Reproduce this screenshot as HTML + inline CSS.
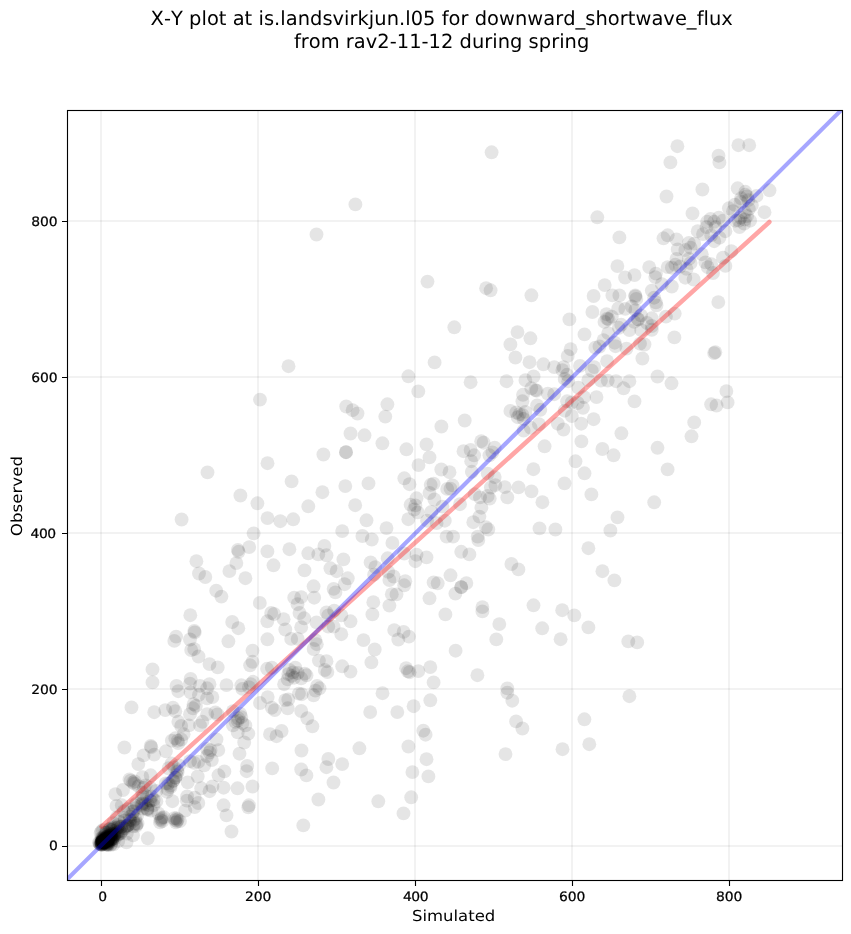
<!DOCTYPE html>
<html lang="en"><head><meta charset="utf-8"><title>X-Y plot at is.landsvirkjun.l05 for downward_shortwave_flux</title>
<style>html,body{margin:0;padding:0;background:#fff}body{width:851px;height:934px;overflow:hidden}svg{display:block}text{font-family:"DejaVu Sans","Liberation Sans",sans-serif;fill:#000;font-kerning:none;font-variant-ligatures:none;text-rendering:geometricPrecision}</style></head><body>
<svg width="851" height="934" viewBox="0 0 851 934">
<rect x="0" y="0" width="851" height="934" fill="#fff"/>
<defs><clipPath id="c"><rect x="67.5" y="110.5" width="775" height="770"/></clipPath></defs>
<g stroke="#000" stroke-opacity="0.05" stroke-width="2" fill="none"><path d="M101 880.5V110.5M258 880.5V110.5M415 880.5V110.5M572 880.5V110.5M729 880.5V110.5"/><path d="M67.5 846H842.5M67.5 689H842.5M67.5 533H842.5M67.5 377H842.5M67.5 221H842.5"/></g>
<g clip-path="url(#c)" fill="#000" fill-opacity="0.1">
<circle cx="718.5" cy="155.7" r="6.94"/>
<circle cx="719.4" cy="162.4" r="6.94"/>
<circle cx="702.4" cy="189.5" r="6.94"/>
<circle cx="769.5" cy="190.3" r="6.94"/>
<circle cx="737.7" cy="188.3" r="6.94"/>
<circle cx="745.3" cy="191.8" r="6.94"/>
<circle cx="747.1" cy="196.5" r="6.94"/>
<circle cx="756.5" cy="195.9" r="6.94"/>
<circle cx="764.5" cy="212.2" r="6.94"/>
<circle cx="728.9" cy="208.3" r="6.94"/>
<circle cx="734.7" cy="204.8" r="6.94"/>
<circle cx="740.6" cy="201.8" r="6.94"/>
<circle cx="748.9" cy="208.9" r="6.94"/>
<circle cx="744.8" cy="212.4" r="6.94"/>
<circle cx="740.6" cy="217.7" r="6.94"/>
<circle cx="750.1" cy="220.7" r="6.94"/>
<circle cx="710.6" cy="218.9" r="6.94"/>
<circle cx="714.1" cy="221.8" r="6.94"/>
<circle cx="718.8" cy="217.7" r="6.94"/>
<circle cx="723" cy="220.7" r="6.94"/>
<circle cx="707.1" cy="221.8" r="6.94"/>
<circle cx="745.3" cy="194.8" r="6.94"/>
<circle cx="748.3" cy="200.1" r="6.94"/>
<circle cx="741.2" cy="198.3" r="6.94"/>
<circle cx="738.9" cy="220.7" r="6.94"/>
<circle cx="735.3" cy="220.7" r="6.94"/>
<circle cx="747.1" cy="216" r="6.94"/>
<circle cx="751.8" cy="205.4" r="6.94"/>
<circle cx="733" cy="211.2" r="6.94"/>
<circle cx="744.8" cy="219.5" r="6.94"/>
<circle cx="714.1" cy="353.1" r="6.94"/>
<circle cx="715.3" cy="352.2" r="6.94"/>
<circle cx="670.4" cy="162.4" r="6.94"/>
<circle cx="666.5" cy="196.5" r="6.94"/>
<circle cx="692.5" cy="213.4" r="6.94"/>
<circle cx="619.4" cy="237.4" r="6.94"/>
<circle cx="617.4" cy="266.1" r="6.94"/>
<circle cx="625.1" cy="277.5" r="6.94"/>
<circle cx="634.5" cy="275.1" r="6.94"/>
<circle cx="649.2" cy="267.1" r="6.94"/>
<circle cx="604.7" cy="285.1" r="6.94"/>
<circle cx="612.4" cy="295.4" r="6.94"/>
<circle cx="619.4" cy="295.4" r="6.94"/>
<circle cx="651.8" cy="290.6" r="6.94"/>
<circle cx="635.3" cy="295.4" r="6.94"/>
<circle cx="636.3" cy="298.9" r="6.94"/>
<circle cx="618.3" cy="308.3" r="6.94"/>
<circle cx="625.3" cy="308.9" r="6.94"/>
<circle cx="631.8" cy="306.5" r="6.94"/>
<circle cx="635.3" cy="310.1" r="6.94"/>
<circle cx="606.5" cy="314.2" r="6.94"/>
<circle cx="608.5" cy="319.2" r="6.94"/>
<circle cx="604.5" cy="321.9" r="6.94"/>
<circle cx="611.8" cy="316.6" r="6.94"/>
<circle cx="637.7" cy="319.2" r="6.94"/>
<circle cx="641" cy="315.4" r="6.94"/>
<circle cx="634.2" cy="321.9" r="6.94"/>
<circle cx="651.8" cy="318.3" r="6.94"/>
<circle cx="647.1" cy="323" r="6.94"/>
<circle cx="621.2" cy="324.8" r="6.94"/>
<circle cx="618.8" cy="327.8" r="6.94"/>
<circle cx="629.4" cy="330.1" r="6.94"/>
<circle cx="651.8" cy="329.8" r="6.94"/>
<circle cx="608.2" cy="333.1" r="6.94"/>
<circle cx="641.2" cy="330.1" r="6.94"/>
<circle cx="674.4" cy="337.4" r="6.94"/>
<circle cx="635.3" cy="296.5" r="6.94"/>
<circle cx="638.3" cy="319.5" r="6.94"/>
<circle cx="607.1" cy="318.7" r="6.94"/>
<circle cx="603.5" cy="340.1" r="6.94"/>
<circle cx="614.7" cy="342.7" r="6.94"/>
<circle cx="615.5" cy="346.2" r="6.94"/>
<circle cx="640" cy="343.7" r="6.94"/>
<circle cx="644.5" cy="344.5" r="6.94"/>
<circle cx="626.5" cy="348.6" r="6.94"/>
<circle cx="607.1" cy="361.2" r="6.94"/>
<circle cx="642.4" cy="358.5" r="6.94"/>
<circle cx="657.5" cy="376.5" r="6.94"/>
<circle cx="671.5" cy="383.3" r="6.94"/>
<circle cx="600.9" cy="380.6" r="6.94"/>
<circle cx="607.7" cy="380.6" r="6.94"/>
<circle cx="616" cy="381.2" r="6.94"/>
<circle cx="629.4" cy="381.2" r="6.94"/>
<circle cx="623.6" cy="388.3" r="6.94"/>
<circle cx="634.5" cy="401.4" r="6.94"/>
<circle cx="621.4" cy="433.3" r="6.94"/>
<circle cx="694.2" cy="422.4" r="6.94"/>
<circle cx="691.5" cy="436.3" r="6.94"/>
<circle cx="657.5" cy="447.8" r="6.94"/>
<circle cx="602.4" cy="449" r="6.94"/>
<circle cx="517.5" cy="332.1" r="6.94"/>
<circle cx="530.4" cy="338.3" r="6.94"/>
<circle cx="510.4" cy="344.4" r="6.94"/>
<circle cx="515.4" cy="357.5" r="6.94"/>
<circle cx="529.5" cy="362.2" r="6.94"/>
<circle cx="543.4" cy="364.3" r="6.94"/>
<circle cx="554.2" cy="367.1" r="6.94"/>
<circle cx="533.6" cy="376.5" r="6.94"/>
<circle cx="525.4" cy="380.1" r="6.94"/>
<circle cx="470.6" cy="382.2" r="6.94"/>
<circle cx="506.5" cy="381.2" r="6.94"/>
<circle cx="531.3" cy="388.3" r="6.94"/>
<circle cx="535.4" cy="390.1" r="6.94"/>
<circle cx="536.6" cy="390.7" r="6.94"/>
<circle cx="523" cy="394.8" r="6.94"/>
<circle cx="522.4" cy="401.3" r="6.94"/>
<circle cx="547.8" cy="393.6" r="6.94"/>
<circle cx="554.2" cy="394.2" r="6.94"/>
<circle cx="537.1" cy="405.4" r="6.94"/>
<circle cx="540.3" cy="409.8" r="6.94"/>
<circle cx="510.4" cy="410.9" r="6.94"/>
<circle cx="516.3" cy="412.5" r="6.94"/>
<circle cx="519.5" cy="414.2" r="6.94"/>
<circle cx="522.4" cy="414.8" r="6.94"/>
<circle cx="517.7" cy="417.2" r="6.94"/>
<circle cx="525.4" cy="411.9" r="6.94"/>
<circle cx="523.6" cy="418.9" r="6.94"/>
<circle cx="464.7" cy="420.5" r="6.94"/>
<circle cx="538.9" cy="424.2" r="6.94"/>
<circle cx="530.7" cy="427.8" r="6.94"/>
<circle cx="557.8" cy="423.7" r="6.94"/>
<circle cx="569.4" cy="319.4" r="6.94"/>
<circle cx="584.5" cy="334.4" r="6.94"/>
<circle cx="570.6" cy="349.2" r="6.94"/>
<circle cx="567.7" cy="355.9" r="6.94"/>
<circle cx="595.3" cy="347.7" r="6.94"/>
<circle cx="599.5" cy="346.5" r="6.94"/>
<circle cx="580" cy="365.9" r="6.94"/>
<circle cx="594.2" cy="367.1" r="6.94"/>
<circle cx="591.8" cy="370.6" r="6.94"/>
<circle cx="588.3" cy="380.1" r="6.94"/>
<circle cx="578.3" cy="387.7" r="6.94"/>
<circle cx="562.4" cy="370.1" r="6.94"/>
<circle cx="567.1" cy="374.8" r="6.94"/>
<circle cx="563.5" cy="367.1" r="6.94"/>
<circle cx="564.7" cy="378.9" r="6.94"/>
<circle cx="568.2" cy="381.2" r="6.94"/>
<circle cx="596.5" cy="397.1" r="6.94"/>
<circle cx="584.1" cy="397.1" r="6.94"/>
<circle cx="567.1" cy="401.3" r="6.94"/>
<circle cx="571.8" cy="402.4" r="6.94"/>
<circle cx="577.7" cy="403" r="6.94"/>
<circle cx="583" cy="407.8" r="6.94"/>
<circle cx="593.6" cy="419.2" r="6.94"/>
<circle cx="571.8" cy="416" r="6.94"/>
<circle cx="581.2" cy="423.7" r="6.94"/>
<circle cx="564.7" cy="410.7" r="6.94"/>
<circle cx="563.5" cy="429.5" r="6.94"/>
<circle cx="481.2" cy="441.2" r="6.94"/>
<circle cx="483.6" cy="442.7" r="6.94"/>
<circle cx="494.7" cy="447.7" r="6.94"/>
<circle cx="492.4" cy="452.4" r="6.94"/>
<circle cx="489.4" cy="455.3" r="6.94"/>
<circle cx="463.5" cy="451.2" r="6.94"/>
<circle cx="470.6" cy="450" r="6.94"/>
<circle cx="474.1" cy="455.3" r="6.94"/>
<circle cx="471.2" cy="461.2" r="6.94"/>
<circle cx="471.8" cy="471.8" r="6.94"/>
<circle cx="523.6" cy="430.6" r="6.94"/>
<circle cx="544.6" cy="446.3" r="6.94"/>
<circle cx="533.4" cy="469.2" r="6.94"/>
<circle cx="487.7" cy="473.6" r="6.94"/>
<circle cx="494.7" cy="477.1" r="6.94"/>
<circle cx="495.3" cy="485.1" r="6.94"/>
<circle cx="490.9" cy="487.5" r="6.94"/>
<circle cx="504.8" cy="487.1" r="6.94"/>
<circle cx="518.5" cy="487.4" r="6.94"/>
<circle cx="531.5" cy="491.4" r="6.94"/>
<circle cx="507.3" cy="497.4" r="6.94"/>
<circle cx="542.4" cy="502.2" r="6.94"/>
<circle cx="474.7" cy="494.2" r="6.94"/>
<circle cx="480" cy="497.4" r="6.94"/>
<circle cx="487.7" cy="496" r="6.94"/>
<circle cx="489.7" cy="498.6" r="6.94"/>
<circle cx="460" cy="504.2" r="6.94"/>
<circle cx="481.4" cy="507.7" r="6.94"/>
<circle cx="479.4" cy="516.6" r="6.94"/>
<circle cx="473.3" cy="522.2" r="6.94"/>
<circle cx="485.9" cy="527.2" r="6.94"/>
<circle cx="488.3" cy="529.5" r="6.94"/>
<circle cx="477.7" cy="536.6" r="6.94"/>
<circle cx="478.3" cy="540.1" r="6.94"/>
<circle cx="539.5" cy="528.4" r="6.94"/>
<circle cx="555.4" cy="529.5" r="6.94"/>
<circle cx="581.4" cy="441.4" r="6.94"/>
<circle cx="613.6" cy="455.3" r="6.94"/>
<circle cx="575.5" cy="461.3" r="6.94"/>
<circle cx="584.5" cy="473.3" r="6.94"/>
<circle cx="564.5" cy="483.4" r="6.94"/>
<circle cx="591.4" cy="494.4" r="6.94"/>
<circle cx="654.2" cy="502.3" r="6.94"/>
<circle cx="617.5" cy="517.4" r="6.94"/>
<circle cx="610.4" cy="530.5" r="6.94"/>
<circle cx="364.5" cy="435.3" r="6.94"/>
<circle cx="382.4" cy="443.3" r="6.94"/>
<circle cx="406.4" cy="449.3" r="6.94"/>
<circle cx="426.5" cy="444.4" r="6.94"/>
<circle cx="429.5" cy="457.4" r="6.94"/>
<circle cx="418.5" cy="465.1" r="6.94"/>
<circle cx="441.3" cy="469.5" r="6.94"/>
<circle cx="449.5" cy="472.2" r="6.94"/>
<circle cx="368.5" cy="483.4" r="6.94"/>
<circle cx="404.3" cy="478.3" r="6.94"/>
<circle cx="409.5" cy="484.2" r="6.94"/>
<circle cx="430.7" cy="484.8" r="6.94"/>
<circle cx="433.6" cy="483.6" r="6.94"/>
<circle cx="429.5" cy="493" r="6.94"/>
<circle cx="434.4" cy="499.5" r="6.94"/>
<circle cx="447.2" cy="488.9" r="6.94"/>
<circle cx="452.5" cy="485.4" r="6.94"/>
<circle cx="450.5" cy="488.7" r="6.94"/>
<circle cx="416.5" cy="498.3" r="6.94"/>
<circle cx="410.6" cy="504.8" r="6.94"/>
<circle cx="415.4" cy="505.4" r="6.94"/>
<circle cx="414.2" cy="509.5" r="6.94"/>
<circle cx="417.7" cy="512.4" r="6.94"/>
<circle cx="408.3" cy="519.2" r="6.94"/>
<circle cx="431.3" cy="511.9" r="6.94"/>
<circle cx="427.1" cy="520.7" r="6.94"/>
<circle cx="436.6" cy="523.1" r="6.94"/>
<circle cx="444.8" cy="520.7" r="6.94"/>
<circle cx="442.4" cy="506.6" r="6.94"/>
<circle cx="366.5" cy="520.3" r="6.94"/>
<circle cx="386.5" cy="528.1" r="6.94"/>
<circle cx="362.4" cy="536" r="6.94"/>
<circle cx="371.8" cy="539.5" r="6.94"/>
<circle cx="446.6" cy="536.6" r="6.94"/>
<circle cx="453.1" cy="536.6" r="6.94"/>
<circle cx="392.4" cy="542.9" r="6.94"/>
<circle cx="416.5" cy="554.7" r="6.94"/>
<circle cx="415.4" cy="561.2" r="6.94"/>
<circle cx="426.5" cy="557.4" r="6.94"/>
<circle cx="404.2" cy="553.5" r="6.94"/>
<circle cx="387.7" cy="558.3" r="6.94"/>
<circle cx="370.6" cy="562.4" r="6.94"/>
<circle cx="375.3" cy="567.1" r="6.94"/>
<circle cx="374.1" cy="574.7" r="6.94"/>
<circle cx="388.3" cy="571.8" r="6.94"/>
<circle cx="393.6" cy="576.5" r="6.94"/>
<circle cx="389.4" cy="580" r="6.94"/>
<circle cx="405.3" cy="581.2" r="6.94"/>
<circle cx="404.2" cy="585.3" r="6.94"/>
<circle cx="450.5" cy="575.3" r="6.94"/>
<circle cx="433.6" cy="582.4" r="6.94"/>
<circle cx="437.7" cy="583.3" r="6.94"/>
<circle cx="391.8" cy="594.2" r="6.94"/>
<circle cx="396.5" cy="594.4" r="6.94"/>
<circle cx="429.5" cy="598.3" r="6.94"/>
<circle cx="455.4" cy="593.6" r="6.94"/>
<circle cx="373.3" cy="602.2" r="6.94"/>
<circle cx="389.4" cy="605.6" r="6.94"/>
<circle cx="372.4" cy="614.4" r="6.94"/>
<circle cx="445.4" cy="614.4" r="6.94"/>
<circle cx="394.2" cy="630.1" r="6.94"/>
<circle cx="403.6" cy="631.9" r="6.94"/>
<circle cx="408.9" cy="636.6" r="6.94"/>
<circle cx="398.3" cy="639.5" r="6.94"/>
<circle cx="363.5" cy="640.1" r="6.94"/>
<circle cx="374.7" cy="649.5" r="6.94"/>
<circle cx="455.6" cy="650.7" r="6.94"/>
<circle cx="267.4" cy="551.4" r="6.94"/>
<circle cx="289.4" cy="549.2" r="6.94"/>
<circle cx="273.5" cy="565.3" r="6.94"/>
<circle cx="304.5" cy="570.4" r="6.94"/>
<circle cx="308.3" cy="553.3" r="6.94"/>
<circle cx="318.3" cy="554.4" r="6.94"/>
<circle cx="324.4" cy="545.9" r="6.94"/>
<circle cx="326.5" cy="555.3" r="6.94"/>
<circle cx="343.4" cy="559.4" r="6.94"/>
<circle cx="330.4" cy="568.3" r="6.94"/>
<circle cx="336.6" cy="571.2" r="6.94"/>
<circle cx="347.8" cy="578.3" r="6.94"/>
<circle cx="344.6" cy="584.2" r="6.94"/>
<circle cx="313.6" cy="586.3" r="6.94"/>
<circle cx="333.6" cy="588.9" r="6.94"/>
<circle cx="335.4" cy="592.4" r="6.94"/>
<circle cx="294.2" cy="597.7" r="6.94"/>
<circle cx="301.2" cy="597.1" r="6.94"/>
<circle cx="314.2" cy="597.7" r="6.94"/>
<circle cx="297.5" cy="604.2" r="6.94"/>
<circle cx="299.5" cy="613" r="6.94"/>
<circle cx="304.2" cy="618.3" r="6.94"/>
<circle cx="301.2" cy="627.2" r="6.94"/>
<circle cx="271.2" cy="613" r="6.94"/>
<circle cx="274.1" cy="614" r="6.94"/>
<circle cx="267.3" cy="621.3" r="6.94"/>
<circle cx="283.6" cy="619.2" r="6.94"/>
<circle cx="285.3" cy="629.5" r="6.94"/>
<circle cx="316.5" cy="622.4" r="6.94"/>
<circle cx="326.5" cy="612.4" r="6.94"/>
<circle cx="328.3" cy="615.4" r="6.94"/>
<circle cx="334.2" cy="610.7" r="6.94"/>
<circle cx="341.3" cy="615.4" r="6.94"/>
<circle cx="350.5" cy="621.3" r="6.94"/>
<circle cx="328.3" cy="626.6" r="6.94"/>
<circle cx="333.6" cy="626.6" r="6.94"/>
<circle cx="341.3" cy="634.2" r="6.94"/>
<circle cx="267.4" cy="639.3" r="6.94"/>
<circle cx="291.2" cy="638.9" r="6.94"/>
<circle cx="297.7" cy="638.9" r="6.94"/>
<circle cx="315.4" cy="640.1" r="6.94"/>
<circle cx="316.8" cy="644.2" r="6.94"/>
<circle cx="313.6" cy="649" r="6.94"/>
<circle cx="318.9" cy="660.6" r="6.94"/>
<circle cx="326.5" cy="661.2" r="6.94"/>
<circle cx="324.8" cy="670" r="6.94"/>
<circle cx="327.4" cy="672.1" r="6.94"/>
<circle cx="342.2" cy="666.3" r="6.94"/>
<circle cx="350.5" cy="671.6" r="6.94"/>
<circle cx="289.4" cy="670" r="6.94"/>
<circle cx="293" cy="672.4" r="6.94"/>
<circle cx="295.3" cy="667.7" r="6.94"/>
<circle cx="291.8" cy="675.9" r="6.94"/>
<circle cx="287.7" cy="679.4" r="6.94"/>
<circle cx="304.8" cy="673.6" r="6.94"/>
<circle cx="306.5" cy="675.3" r="6.94"/>
<circle cx="301.2" cy="678.3" r="6.94"/>
<circle cx="284.1" cy="684.2" r="6.94"/>
<circle cx="297.7" cy="673" r="6.94"/>
<circle cx="288.3" cy="674.1" r="6.94"/>
<circle cx="294.2" cy="677.7" r="6.94"/>
<circle cx="267.1" cy="668.8" r="6.94"/>
<circle cx="271.8" cy="667.7" r="6.94"/>
<circle cx="317.1" cy="685.9" r="6.94"/>
<circle cx="319.5" cy="688.3" r="6.94"/>
<circle cx="315.4" cy="690.6" r="6.94"/>
<circle cx="298.9" cy="693.6" r="6.94"/>
<circle cx="301.8" cy="694.2" r="6.94"/>
<circle cx="313.6" cy="695.3" r="6.94"/>
<circle cx="267.7" cy="697.1" r="6.94"/>
<circle cx="285.3" cy="700.1" r="6.94"/>
<circle cx="288.3" cy="699.5" r="6.94"/>
<circle cx="287.7" cy="708.3" r="6.94"/>
<circle cx="260" cy="703" r="6.94"/>
<circle cx="271.8" cy="707.7" r="6.94"/>
<circle cx="274.7" cy="710.1" r="6.94"/>
<circle cx="301.2" cy="711" r="6.94"/>
<circle cx="307.3" cy="718.3" r="6.94"/>
<circle cx="312.4" cy="726.3" r="6.94"/>
<circle cx="270" cy="734.2" r="6.94"/>
<circle cx="276.5" cy="736.2" r="6.94"/>
<circle cx="281.6" cy="731" r="6.94"/>
<circle cx="301.5" cy="750.5" r="6.94"/>
<circle cx="328.3" cy="759" r="6.94"/>
<circle cx="191.2" cy="650" r="6.94"/>
<circle cx="194.2" cy="649.1" r="6.94"/>
<circle cx="198.5" cy="656.5" r="6.94"/>
<circle cx="209.5" cy="664.1" r="6.94"/>
<circle cx="217.7" cy="667.4" r="6.94"/>
<circle cx="252.5" cy="650.6" r="6.94"/>
<circle cx="252.5" cy="661.8" r="6.94"/>
<circle cx="250.1" cy="665.3" r="6.94"/>
<circle cx="190.6" cy="678.9" r="6.94"/>
<circle cx="190" cy="683.6" r="6.94"/>
<circle cx="176.5" cy="685.9" r="6.94"/>
<circle cx="178.3" cy="691.2" r="6.94"/>
<circle cx="200" cy="685.9" r="6.94"/>
<circle cx="209.5" cy="684.2" r="6.94"/>
<circle cx="207.1" cy="688.3" r="6.94"/>
<circle cx="226.5" cy="685.1" r="6.94"/>
<circle cx="241.3" cy="685.3" r="6.94"/>
<circle cx="242.4" cy="688.9" r="6.94"/>
<circle cx="250.7" cy="684.2" r="6.94"/>
<circle cx="248.9" cy="687.1" r="6.94"/>
<circle cx="253.1" cy="681.8" r="6.94"/>
<circle cx="190.6" cy="692.4" r="6.94"/>
<circle cx="198.9" cy="694.8" r="6.94"/>
<circle cx="207.1" cy="698.3" r="6.94"/>
<circle cx="212.4" cy="697.1" r="6.94"/>
<circle cx="193.6" cy="704.2" r="6.94"/>
<circle cx="193" cy="708.3" r="6.94"/>
<circle cx="195.9" cy="705.9" r="6.94"/>
<circle cx="165.3" cy="710.1" r="6.94"/>
<circle cx="173" cy="707.7" r="6.94"/>
<circle cx="175.3" cy="711.2" r="6.94"/>
<circle cx="190" cy="714.2" r="6.94"/>
<circle cx="215.4" cy="712.4" r="6.94"/>
<circle cx="217.5" cy="714.5" r="6.94"/>
<circle cx="207.1" cy="714.2" r="6.94"/>
<circle cx="178.3" cy="721.8" r="6.94"/>
<circle cx="181.2" cy="726" r="6.94"/>
<circle cx="188.9" cy="725.4" r="6.94"/>
<circle cx="202.4" cy="721.8" r="6.94"/>
<circle cx="200" cy="725.4" r="6.94"/>
<circle cx="233" cy="711.2" r="6.94"/>
<circle cx="240.1" cy="713.6" r="6.94"/>
<circle cx="238.3" cy="718.3" r="6.94"/>
<circle cx="235.4" cy="721.8" r="6.94"/>
<circle cx="233" cy="725.4" r="6.94"/>
<circle cx="242.4" cy="723" r="6.94"/>
<circle cx="245.4" cy="725.4" r="6.94"/>
<circle cx="237.7" cy="720.7" r="6.94"/>
<circle cx="241.3" cy="717.1" r="6.94"/>
<circle cx="237.7" cy="732.4" r="6.94"/>
<circle cx="248.3" cy="733.6" r="6.94"/>
<circle cx="244.2" cy="742.5" r="6.94"/>
<circle cx="183.6" cy="734.2" r="6.94"/>
<circle cx="171.8" cy="740.7" r="6.94"/>
<circle cx="177.7" cy="740.7" r="6.94"/>
<circle cx="178.3" cy="743.1" r="6.94"/>
<circle cx="175.3" cy="738.3" r="6.94"/>
<circle cx="181.2" cy="739.5" r="6.94"/>
<circle cx="165.9" cy="751.3" r="6.94"/>
<circle cx="216.5" cy="739.5" r="6.94"/>
<circle cx="207.1" cy="748.9" r="6.94"/>
<circle cx="210.6" cy="750.1" r="6.94"/>
<circle cx="218.3" cy="750.1" r="6.94"/>
<circle cx="209.5" cy="752.5" r="6.94"/>
<circle cx="239.5" cy="753.7" r="6.94"/>
<circle cx="207.1" cy="756" r="6.94"/>
<circle cx="247.2" cy="765.9" r="6.94"/>
<circle cx="246.6" cy="771.2" r="6.94"/>
<circle cx="224.4" cy="771.4" r="6.94"/>
<circle cx="218.5" cy="775.3" r="6.94"/>
<circle cx="197.7" cy="776.5" r="6.94"/>
<circle cx="187.7" cy="782.4" r="6.94"/>
<circle cx="201.2" cy="788.3" r="6.94"/>
<circle cx="212.4" cy="786.5" r="6.94"/>
<circle cx="209.5" cy="791.2" r="6.94"/>
<circle cx="223.6" cy="787.7" r="6.94"/>
<circle cx="237.5" cy="788.3" r="6.94"/>
<circle cx="252.5" cy="786.5" r="6.94"/>
<circle cx="187.1" cy="796.5" r="6.94"/>
<circle cx="186.9" cy="800.6" r="6.94"/>
<circle cx="194.7" cy="797.7" r="6.94"/>
<circle cx="198.3" cy="803" r="6.94"/>
<circle cx="194.7" cy="807.1" r="6.94"/>
<circle cx="172.4" cy="801.2" r="6.94"/>
<circle cx="185.3" cy="810.6" r="6.94"/>
<circle cx="223.6" cy="805.3" r="6.94"/>
<circle cx="226.5" cy="815.4" r="6.94"/>
<circle cx="231.5" cy="831.5" r="6.94"/>
<circle cx="248.9" cy="805.3" r="6.94"/>
<circle cx="248.3" cy="807.3" r="6.94"/>
<circle cx="176.5" cy="818.3" r="6.94"/>
<circle cx="177.1" cy="821.2" r="6.94"/>
<circle cx="175.3" cy="820.1" r="6.94"/>
<circle cx="177.7" cy="819.5" r="6.94"/>
<circle cx="175.9" cy="822.4" r="6.94"/>
<circle cx="161.2" cy="818.9" r="6.94"/>
<circle cx="162.4" cy="821.2" r="6.94"/>
<circle cx="160.6" cy="820.1" r="6.94"/>
<circle cx="161.8" cy="817.7" r="6.94"/>
<circle cx="160" cy="822.4" r="6.94"/>
<circle cx="175.3" cy="777.7" r="6.94"/>
<circle cx="170.6" cy="787.1" r="6.94"/>
<circle cx="167.1" cy="791.8" r="6.94"/>
<circle cx="177.7" cy="771.8" r="6.94"/>
<circle cx="173" cy="781.2" r="6.94"/>
<circle cx="168.2" cy="783.6" r="6.94"/>
<circle cx="176.5" cy="775.3" r="6.94"/>
<circle cx="194.2" cy="762.9" r="6.94"/>
<circle cx="198.3" cy="761.8" r="6.94"/>
<circle cx="190" cy="761.2" r="6.94"/>
<circle cx="211.8" cy="760" r="6.94"/>
<circle cx="204.2" cy="765.3" r="6.94"/>
<circle cx="138.3" cy="764.1" r="6.94"/>
<circle cx="130.7" cy="780.6" r="6.94"/>
<circle cx="134.2" cy="783.6" r="6.94"/>
<circle cx="129.5" cy="779.4" r="6.94"/>
<circle cx="133" cy="782.4" r="6.94"/>
<circle cx="115.4" cy="794.2" r="6.94"/>
<circle cx="123" cy="790" r="6.94"/>
<circle cx="142.4" cy="777.1" r="6.94"/>
<circle cx="150.7" cy="775.3" r="6.94"/>
<circle cx="116.5" cy="805.9" r="6.94"/>
<circle cx="121.8" cy="805.3" r="6.94"/>
<circle cx="147.8" cy="838.3" r="6.94"/>
<circle cx="126.5" cy="842.4" r="6.94"/>
<circle cx="133" cy="835.4" r="6.94"/>
<circle cx="152.5" cy="669.4" r="6.94"/>
<circle cx="152.5" cy="682.4" r="6.94"/>
<circle cx="131.5" cy="707.4" r="6.94"/>
<circle cx="154.2" cy="712.2" r="6.94"/>
<circle cx="124.4" cy="747.5" r="6.94"/>
<circle cx="150.7" cy="746" r="6.94"/>
<circle cx="151.3" cy="747.2" r="6.94"/>
<circle cx="143.6" cy="755.4" r="6.94"/>
<circle cx="154.2" cy="754.6" r="6.94"/>
<circle cx="355.4" cy="204.4" r="6.94"/>
<circle cx="316.5" cy="234.5" r="6.94"/>
<circle cx="427.5" cy="281.6" r="6.94"/>
<circle cx="207.5" cy="472.4" r="6.94"/>
<circle cx="240.4" cy="495.5" r="6.94"/>
<circle cx="181.6" cy="519.5" r="6.94"/>
<circle cx="260" cy="399.6" r="6.94"/>
<circle cx="257.4" cy="503.3" r="6.94"/>
<circle cx="253.6" cy="533.4" r="6.94"/>
<circle cx="454.3" cy="327.3" r="6.94"/>
<circle cx="288.5" cy="366.2" r="6.94"/>
<circle cx="434.6" cy="362.4" r="6.94"/>
<circle cx="408.4" cy="376.3" r="6.94"/>
<circle cx="418.3" cy="391.4" r="6.94"/>
<circle cx="346.2" cy="406.5" r="6.94"/>
<circle cx="352.6" cy="410.2" r="6.94"/>
<circle cx="357.5" cy="413.5" r="6.94"/>
<circle cx="387.4" cy="404.3" r="6.94"/>
<circle cx="385.3" cy="416.6" r="6.94"/>
<circle cx="441.4" cy="426.5" r="6.94"/>
<circle cx="350.5" cy="433.5" r="6.94"/>
<circle cx="346" cy="452.2" r="6.94"/>
<circle cx="346" cy="452.2" r="6.94"/>
<circle cx="323.4" cy="454.5" r="6.94"/>
<circle cx="267.5" cy="463.2" r="6.94"/>
<circle cx="291.6" cy="481.4" r="6.94"/>
<circle cx="345.3" cy="486.1" r="6.94"/>
<circle cx="322.4" cy="492.2" r="6.94"/>
<circle cx="308.3" cy="506.3" r="6.94"/>
<circle cx="355.2" cy="505.2" r="6.94"/>
<circle cx="267.5" cy="518.1" r="6.94"/>
<circle cx="280.3" cy="521.2" r="6.94"/>
<circle cx="293.2" cy="519.3" r="6.94"/>
<circle cx="342.2" cy="531.1" r="6.94"/>
<circle cx="491.6" cy="152.3" r="6.94"/>
<circle cx="597.3" cy="217.3" r="6.94"/>
<circle cx="486.1" cy="288.2" r="6.94"/>
<circle cx="490.6" cy="290.3" r="6.94"/>
<circle cx="531.4" cy="295.3" r="6.94"/>
<circle cx="593.6" cy="296" r="6.94"/>
<circle cx="592.4" cy="312" r="6.94"/>
<circle cx="677.4" cy="146.2" r="6.94"/>
<circle cx="738.4" cy="145.2" r="6.94"/>
<circle cx="749.2" cy="145.2" r="6.94"/>
<circle cx="667.6" cy="469.4" r="6.94"/>
<circle cx="602.4" cy="571.2" r="6.94"/>
<circle cx="614.4" cy="580.4" r="6.94"/>
<circle cx="628.3" cy="641.4" r="6.94"/>
<circle cx="637.2" cy="642.4" r="6.94"/>
<circle cx="726.4" cy="391.1" r="6.94"/>
<circle cx="727.6" cy="402.4" r="6.94"/>
<circle cx="711.1" cy="404.3" r="6.94"/>
<circle cx="716.5" cy="405.5" r="6.94"/>
<circle cx="461.2" cy="551.8" r="6.94"/>
<circle cx="469.4" cy="554.4" r="6.94"/>
<circle cx="511.4" cy="564" r="6.94"/>
<circle cx="518.4" cy="569.4" r="6.94"/>
<circle cx="588.4" cy="548.2" r="6.94"/>
<circle cx="466.4" cy="583.1" r="6.94"/>
<circle cx="461.2" cy="587.1" r="6.94"/>
<circle cx="461.2" cy="587.1" r="6.94"/>
<circle cx="482.4" cy="607.1" r="6.94"/>
<circle cx="482.4" cy="611.4" r="6.94"/>
<circle cx="533.5" cy="605.3" r="6.94"/>
<circle cx="562.2" cy="610.2" r="6.94"/>
<circle cx="574.3" cy="615.4" r="6.94"/>
<circle cx="588.4" cy="627.4" r="6.94"/>
<circle cx="499.3" cy="624.1" r="6.94"/>
<circle cx="496.3" cy="639.4" r="6.94"/>
<circle cx="542.2" cy="628.3" r="6.94"/>
<circle cx="560.6" cy="639.2" r="6.94"/>
<circle cx="477.4" cy="675.2" r="6.94"/>
<circle cx="507.3" cy="688.4" r="6.94"/>
<circle cx="507.3" cy="692.7" r="6.94"/>
<circle cx="512.3" cy="700.7" r="6.94"/>
<circle cx="629.4" cy="696.2" r="6.94"/>
<circle cx="516.1" cy="721.4" r="6.94"/>
<circle cx="522.4" cy="728.5" r="6.94"/>
<circle cx="584.4" cy="719.3" r="6.94"/>
<circle cx="589.3" cy="744.2" r="6.94"/>
<circle cx="562.5" cy="749.2" r="6.94"/>
<circle cx="505.5" cy="754.1" r="6.94"/>
<circle cx="237.9" cy="549.9" r="6.94"/>
<circle cx="238.6" cy="551.8" r="6.94"/>
<circle cx="249.2" cy="547.1" r="6.94"/>
<circle cx="196.4" cy="561.2" r="6.94"/>
<circle cx="199" cy="573.5" r="6.94"/>
<circle cx="205.3" cy="577" r="6.94"/>
<circle cx="236.4" cy="563.1" r="6.94"/>
<circle cx="229.4" cy="571.1" r="6.94"/>
<circle cx="245.4" cy="578.2" r="6.94"/>
<circle cx="216.2" cy="590.7" r="6.94"/>
<circle cx="221.4" cy="596.6" r="6.94"/>
<circle cx="190.3" cy="615.2" r="6.94"/>
<circle cx="232.2" cy="622" r="6.94"/>
<circle cx="238.3" cy="628.2" r="6.94"/>
<circle cx="194.3" cy="631" r="6.94"/>
<circle cx="194.7" cy="632.4" r="6.94"/>
<circle cx="176.1" cy="636.6" r="6.94"/>
<circle cx="174.3" cy="640.9" r="6.94"/>
<circle cx="190" cy="639.5" r="6.94"/>
<circle cx="228.4" cy="641.3" r="6.94"/>
<circle cx="259.8" cy="602.9" r="6.94"/>
<circle cx="371.4" cy="662.4" r="6.94"/>
<circle cx="382.5" cy="693.2" r="6.94"/>
<circle cx="370.2" cy="712.1" r="6.94"/>
<circle cx="397.3" cy="712.1" r="6.94"/>
<circle cx="406.1" cy="668.2" r="6.94"/>
<circle cx="407.9" cy="671.3" r="6.94"/>
<circle cx="409.6" cy="672.2" r="6.94"/>
<circle cx="418.3" cy="671.1" r="6.94"/>
<circle cx="430.3" cy="667.1" r="6.94"/>
<circle cx="433.6" cy="682.4" r="6.94"/>
<circle cx="413.6" cy="706.2" r="6.94"/>
<circle cx="430.3" cy="700.3" r="6.94"/>
<circle cx="423.3" cy="730.7" r="6.94"/>
<circle cx="425.6" cy="734.7" r="6.94"/>
<circle cx="408.4" cy="746.5" r="6.94"/>
<circle cx="426.5" cy="759.2" r="6.94"/>
<circle cx="412.4" cy="772.1" r="6.94"/>
<circle cx="428.4" cy="776.4" r="6.94"/>
<circle cx="411.2" cy="797.3" r="6.94"/>
<circle cx="403.5" cy="813.4" r="6.94"/>
<circle cx="378.3" cy="801.3" r="6.94"/>
<circle cx="359.4" cy="748.3" r="6.94"/>
<circle cx="272.2" cy="768.4" r="6.94"/>
<circle cx="301.2" cy="769.5" r="6.94"/>
<circle cx="306.4" cy="775.4" r="6.94"/>
<circle cx="326.4" cy="767.2" r="6.94"/>
<circle cx="342.2" cy="764.1" r="6.94"/>
<circle cx="333.5" cy="782.5" r="6.94"/>
<circle cx="318.4" cy="799.5" r="6.94"/>
<circle cx="303.3" cy="825.4" r="6.94"/>
<circle cx="663.5" cy="238.3" r="6.94"/>
<circle cx="667.7" cy="235.3" r="6.94"/>
<circle cx="676.5" cy="239.4" r="6.94"/>
<circle cx="677.7" cy="249.4" r="6.94"/>
<circle cx="685.3" cy="250" r="6.94"/>
<circle cx="690.6" cy="247.7" r="6.94"/>
<circle cx="694.2" cy="243.6" r="6.94"/>
<circle cx="688.9" cy="243" r="6.94"/>
<circle cx="676.5" cy="258.9" r="6.94"/>
<circle cx="675.3" cy="264.8" r="6.94"/>
<circle cx="671.8" cy="267.7" r="6.94"/>
<circle cx="667.7" cy="267.1" r="6.94"/>
<circle cx="680" cy="266.5" r="6.94"/>
<circle cx="688.9" cy="258.9" r="6.94"/>
<circle cx="690.6" cy="263" r="6.94"/>
<circle cx="686.5" cy="268.9" r="6.94"/>
<circle cx="701.8" cy="254.2" r="6.94"/>
<circle cx="705.4" cy="262.4" r="6.94"/>
<circle cx="711.2" cy="264.2" r="6.94"/>
<circle cx="707.7" cy="267.1" r="6.94"/>
<circle cx="713" cy="273" r="6.94"/>
<circle cx="723" cy="257.7" r="6.94"/>
<circle cx="731.3" cy="251.2" r="6.94"/>
<circle cx="725.4" cy="265.9" r="6.94"/>
<circle cx="655.9" cy="273.6" r="6.94"/>
<circle cx="655.3" cy="277.1" r="6.94"/>
<circle cx="661.8" cy="284.2" r="6.94"/>
<circle cx="671.8" cy="286.5" r="6.94"/>
<circle cx="685.3" cy="277.7" r="6.94"/>
<circle cx="693.6" cy="279.5" r="6.94"/>
<circle cx="654.1" cy="297.7" r="6.94"/>
<circle cx="655.9" cy="302.4" r="6.94"/>
<circle cx="656.5" cy="305.4" r="6.94"/>
<circle cx="665.9" cy="316.6" r="6.94"/>
<circle cx="674.7" cy="313.6" r="6.94"/>
<circle cx="651.8" cy="326" r="6.94"/>
<circle cx="718.3" cy="302.1" r="6.94"/>
<circle cx="697.7" cy="231.2" r="6.94"/>
<circle cx="703" cy="234.1" r="6.94"/>
<circle cx="706.5" cy="227.1" r="6.94"/>
<circle cx="715.4" cy="227.1" r="6.94"/>
<circle cx="725.4" cy="231.2" r="6.94"/>
<circle cx="714.2" cy="241.2" r="6.94"/>
<circle cx="719.5" cy="237.7" r="6.94"/>
<circle cx="711.2" cy="235.3" r="6.94"/>
<circle cx="739.5" cy="227.1" r="6.94"/>
<circle cx="744.2" cy="223.5" r="6.94"/>
<circle cx="102.736" cy="842.817" r="6.94"/>
<circle cx="102.242" cy="842.256" r="6.94"/>
<circle cx="101.507" cy="843.12" r="6.94"/>
<circle cx="104.234" cy="841.208" r="6.94"/>
<circle cx="104.037" cy="841.181" r="6.94"/>
<circle cx="103.267" cy="841.87" r="6.94"/>
<circle cx="101.354" cy="844.639" r="6.94"/>
<circle cx="103.594" cy="841.943" r="6.94"/>
<circle cx="99.6643" cy="843.007" r="6.94"/>
<circle cx="101.39" cy="842.911" r="6.94"/>
<circle cx="103.018" cy="841.824" r="6.94"/>
<circle cx="102.881" cy="841.198" r="6.94"/>
<circle cx="103.303" cy="842.101" r="6.94"/>
<circle cx="103.046" cy="844.049" r="6.94"/>
<circle cx="104.097" cy="842.333" r="6.94"/>
<circle cx="101.523" cy="842.432" r="6.94"/>
<circle cx="102.241" cy="842.523" r="6.94"/>
<circle cx="103.577" cy="841.641" r="6.94"/>
<circle cx="101.58" cy="842.097" r="6.94"/>
<circle cx="102.889" cy="843.572" r="6.94"/>
<circle cx="101.939" cy="843.274" r="6.94"/>
<circle cx="102.233" cy="840.764" r="6.94"/>
<circle cx="103.59" cy="842.98" r="6.94"/>
<circle cx="100.206" cy="844.283" r="6.94"/>
<circle cx="102.057" cy="841.798" r="6.94"/>
<circle cx="103.225" cy="841.595" r="6.94"/>
<circle cx="101.565" cy="844.393" r="6.94"/>
<circle cx="104.065" cy="842.044" r="6.94"/>
<circle cx="104.568" cy="840.795" r="6.94"/>
<circle cx="102.005" cy="841.234" r="6.94"/>
<circle cx="103.008" cy="841.11" r="6.94"/>
<circle cx="101.378" cy="841.906" r="6.94"/>
<circle cx="101.261" cy="842.96" r="6.94"/>
<circle cx="102.866" cy="839.438" r="6.94"/>
<circle cx="101.197" cy="844.009" r="6.94"/>
<circle cx="104.709" cy="840.93" r="6.94"/>
<circle cx="98.9325" cy="842.749" r="6.94"/>
<circle cx="102.636" cy="841.324" r="6.94"/>
<circle cx="102.052" cy="844.097" r="6.94"/>
<circle cx="104.052" cy="841.049" r="6.94"/>
<circle cx="103.257" cy="842.198" r="6.94"/>
<circle cx="104.906" cy="840.785" r="6.94"/>
<circle cx="103.639" cy="841.961" r="6.94"/>
<circle cx="101.737" cy="844.801" r="6.94"/>
<circle cx="104.123" cy="841.453" r="6.94"/>
<circle cx="100.053" cy="844.037" r="6.94"/>
<circle cx="102.499" cy="840.086" r="6.94"/>
<circle cx="103.142" cy="843.061" r="6.94"/>
<circle cx="102.239" cy="844.718" r="6.94"/>
<circle cx="103.231" cy="841.477" r="6.94"/>
<circle cx="104.651" cy="842.896" r="6.94"/>
<circle cx="105.49" cy="843.625" r="6.94"/>
<circle cx="104.267" cy="842.292" r="6.94"/>
<circle cx="106.798" cy="844.711" r="6.94"/>
<circle cx="102.492" cy="840.292" r="6.94"/>
<circle cx="103.145" cy="840.831" r="6.94"/>
<circle cx="106.718" cy="844.289" r="6.94"/>
<circle cx="104.326" cy="841.782" r="6.94"/>
<circle cx="102.194" cy="839.533" r="6.94"/>
<circle cx="106.663" cy="843.885" r="6.94"/>
<circle cx="107.975" cy="845.079" r="6.94"/>
<circle cx="103.423" cy="840.408" r="6.94"/>
<circle cx="101.225" cy="838.09" r="6.94"/>
<circle cx="104.292" cy="841.035" r="6.94"/>
<circle cx="104.319" cy="840.94" r="6.94"/>
<circle cx="104.021" cy="840.518" r="6.94"/>
<circle cx="108.194" cy="844.566" r="6.94"/>
<circle cx="102.387" cy="838.633" r="6.94"/>
<circle cx="107.972" cy="844.092" r="6.94"/>
<circle cx="101.931" cy="837.923" r="6.94"/>
<circle cx="103.158" cy="839.021" r="6.94"/>
<circle cx="106.647" cy="842.38" r="6.94"/>
<circle cx="107.913" cy="843.514" r="6.94"/>
<circle cx="107.328" cy="842.797" r="6.94"/>
<circle cx="106.155" cy="841.49" r="6.94"/>
<circle cx="105.733" cy="840.932" r="6.94"/>
<circle cx="105.826" cy="840.889" r="6.94"/>
<circle cx="106.915" cy="841.84" r="6.94"/>
<circle cx="105.171" cy="839.957" r="6.94"/>
<circle cx="106.336" cy="840.981" r="6.94"/>
<circle cx="107.12" cy="841.623" r="6.94"/>
<circle cx="105.811" cy="840.171" r="6.94"/>
<circle cx="107.726" cy="841.941" r="6.94"/>
<circle cx="107.321" cy="841.389" r="6.94"/>
<circle cx="110.882" cy="844.803" r="6.94"/>
<circle cx="106.888" cy="840.659" r="6.94"/>
<circle cx="105.147" cy="838.767" r="6.94"/>
<circle cx="105.356" cy="838.823" r="6.94"/>
<circle cx="106.301" cy="839.614" r="6.94"/>
<circle cx="108.641" cy="841.798" r="6.94"/>
<circle cx="105.677" cy="838.676" r="6.94"/>
<circle cx="107.501" cy="840.34" r="6.94"/>
<circle cx="111.085" cy="843.763" r="6.94"/>
<circle cx="100.54" cy="833.055" r="6.94"/>
<circle cx="104.101" cy="836.451" r="6.94"/>
<circle cx="107.486" cy="839.669" r="6.94"/>
<circle cx="107.944" cy="839.957" r="6.94"/>
<circle cx="107.644" cy="839.486" r="6.94"/>
<circle cx="106.113" cy="837.783" r="6.94"/>
<circle cx="108.823" cy="840.318" r="6.94"/>
<circle cx="108.012" cy="839.328" r="6.94"/>
<circle cx="106.16" cy="837.297" r="6.94"/>
<circle cx="113.378" cy="844.333" r="6.94"/>
<circle cx="108.461" cy="839.232" r="6.94"/>
<circle cx="106.359" cy="836.943" r="6.94"/>
<circle cx="107.552" cy="837.946" r="6.94"/>
<circle cx="107.343" cy="837.546" r="6.94"/>
<circle cx="107.834" cy="837.842" r="6.94"/>
<circle cx="101.498" cy="831.309" r="6.94"/>
<circle cx="107.008" cy="836.619" r="6.94"/>
<circle cx="110.72" cy="840.128" r="6.94"/>
<circle cx="105.567" cy="834.769" r="6.94"/>
<circle cx="108.331" cy="837.325" r="6.94"/>
<circle cx="110.9" cy="839.681" r="6.94"/>
<circle cx="110.773" cy="839.339" r="6.94"/>
<circle cx="112.415" cy="840.762" r="6.94"/>
<circle cx="104.819" cy="832.945" r="6.94"/>
<circle cx="108.186" cy="836.086" r="6.94"/>
<circle cx="108.33" cy="836.002" r="6.94"/>
<circle cx="110.774" cy="838.213" r="6.94"/>
<circle cx="112.024" cy="839.226" r="6.94"/>
<circle cx="103.032" cy="829.993" r="6.94"/>
<circle cx="112.259" cy="838.975" r="6.94"/>
<circle cx="106.261" cy="832.728" r="6.94"/>
<circle cx="111.531" cy="837.745" r="6.94"/>
<circle cx="106.409" cy="832.365" r="6.94"/>
<circle cx="110.567" cy="836.26" r="6.94"/>
<circle cx="113.161" cy="838.585" r="6.94"/>
<circle cx="110.053" cy="835.204" r="6.94"/>
<circle cx="111.014" cy="835.887" r="6.94"/>
<circle cx="112.619" cy="837.208" r="6.94"/>
<circle cx="111.181" cy="835.48" r="6.94"/>
<circle cx="110.774" cy="834.777" r="6.94"/>
<circle cx="114.84" cy="838.541" r="6.94"/>
<circle cx="113.824" cy="837.216" r="6.94"/>
<circle cx="110.741" cy="833.818" r="6.94"/>
<circle cx="118.239" cy="840.993" r="6.94"/>
<circle cx="109.009" cy="831.433" r="6.94"/>
<circle cx="114.154" cy="836.24" r="6.94"/>
<circle cx="111.478" cy="833.217" r="6.94"/>
<circle cx="112.616" cy="834.001" r="6.94"/>
<circle cx="114.181" cy="835.201" r="6.94"/>
<circle cx="113.202" cy="833.849" r="6.94"/>
<circle cx="114.399" cy="834.662" r="6.94"/>
<circle cx="109.368" cy="829.236" r="6.94"/>
<circle cx="109.614" cy="829.076" r="6.94"/>
<circle cx="114.951" cy="833.996" r="6.94"/>
<circle cx="111.357" cy="829.971" r="6.94"/>
<circle cx="111.425" cy="829.596" r="6.94"/>
<circle cx="110.584" cy="828.296" r="6.94"/>
<circle cx="117.426" cy="834.666" r="6.94"/>
<circle cx="116.416" cy="833.166" r="6.94"/>
<circle cx="118.424" cy="834.666" r="6.94"/>
<circle cx="112.867" cy="828.584" r="6.94"/>
<circle cx="115.406" cy="830.577" r="6.94"/>
<circle cx="112.935" cy="827.537" r="6.94"/>
<circle cx="117.833" cy="831.843" r="6.94"/>
<circle cx="120.129" cy="833.522" r="6.94"/>
<circle cx="114.466" cy="827.214" r="6.94"/>
<circle cx="120.72" cy="832.791" r="6.94"/>
<circle cx="119.694" cy="831.055" r="6.94"/>
<circle cx="117.253" cy="827.866" r="6.94"/>
<circle cx="113.317" cy="823.141" r="6.94"/>
<circle cx="121.89" cy="830.879" r="6.94"/>
<circle cx="118.706" cy="826.807" r="6.94"/>
<circle cx="117.957" cy="825.111" r="6.94"/>
<circle cx="120.884" cy="827.023" r="6.94"/>
<circle cx="121.455" cy="826.502" r="6.94"/>
<circle cx="124.674" cy="828.537" r="6.94"/>
<circle cx="119.241" cy="821.812" r="6.94"/>
<circle cx="125.157" cy="826.307" r="6.94"/>
<circle cx="126.795" cy="826.364" r="6.94"/>
<circle cx="127.598" cy="825.391" r="6.94"/>
<circle cx="124.673" cy="820.433" r="6.94"/>
<circle cx="124.499" cy="817.887" r="6.94"/>
<circle cx="130.178" cy="820.717" r="6.94"/>
<circle cx="129.782" cy="816.752" r="6.94"/>
<circle cx="132.193" cy="814.385" r="6.94"/>
<circle cx="137.097" cy="815.757" r="6.94"/>
<circle cx="133.023" cy="811.683" r="6.94"/>
<circle cx="141.658" cy="805.632" r="6.94"/>
<circle cx="142.765" cy="808.647" r="6.94"/>
<circle cx="148.193" cy="805.072" r="6.94"/>
<circle cx="147.376" cy="808.682" r="6.94"/>
<circle cx="147.597" cy="809.916" r="6.94"/>
<circle cx="147.247" cy="809.201" r="6.94"/>
<circle cx="151.129" cy="810.625" r="6.94"/>
<circle cx="136.32" cy="825.8" r="6.94"/>
<circle cx="133.31" cy="820.892" r="6.94"/>
<circle cx="133.093" cy="826.272" r="6.94"/>
<circle cx="134.92" cy="823.568" r="6.94"/>
<circle cx="137.519" cy="823.529" r="6.94"/>
<circle cx="136.521" cy="824.184" r="6.94"/>
<circle cx="126.761" cy="833.521" r="6.94"/>
<circle cx="141.259" cy="804.138" r="6.94"/>
<circle cx="129.772" cy="819.772" r="6.94"/>
<circle cx="153.713" cy="799.832" r="6.94"/>
<circle cx="135.048" cy="808.286" r="6.94"/>
<circle cx="116.965" cy="817.323" r="6.94"/>
<circle cx="141.905" cy="798.383" r="6.94"/>
<circle cx="135.285" cy="818.882" r="6.94"/>
<circle cx="145.639" cy="785.355" r="6.94"/>
<circle cx="136.545" cy="803.381" r="6.94"/>
<circle cx="129.824" cy="823.779" r="6.94"/>
<circle cx="150.849" cy="800.925" r="6.94"/>
<circle cx="133.945" cy="811.14" r="6.94"/>
<circle cx="123.783" cy="828.098" r="6.94"/>
<circle cx="143" cy="803.434" r="6.94"/>
<circle cx="123.711" cy="811.265" r="6.94"/>
<circle cx="144.011" cy="787.684" r="6.94"/>
<circle cx="134.392" cy="805.185" r="6.94"/>
<circle cx="127.485" cy="825.397" r="6.94"/>
<circle cx="143.085" cy="797.117" r="6.94"/>
<circle cx="128.09" cy="809.242" r="6.94"/>
<circle cx="150.59" cy="787.861" r="6.94"/>
<circle cx="171.47" cy="763.563" r="6.94"/>
<circle cx="174.298" cy="767.333" r="6.94"/>
<circle cx="177.125" cy="770.16" r="6.94"/>
<circle cx="179.01" cy="765.448" r="6.94"/>
<circle cx="168.643" cy="768.275" r="6.94"/>
<circle cx="170.528" cy="785.24" r="6.94"/>
<circle cx="167.7" cy="789.01" r="6.94"/>
<circle cx="173.355" cy="780.528" r="6.94"/>
<circle cx="175.24" cy="777.7" r="6.94"/>
<circle cx="165.815" cy="783.355" r="6.94"/>
<circle cx="134.713" cy="781.47" r="6.94"/>
<circle cx="138.483" cy="786.183" r="6.94"/>
<circle cx="149.793" cy="800.32" r="6.94"/>
<circle cx="153.563" cy="805.033" r="6.94"/>
<circle cx="146.965" cy="796.55" r="6.94"/>
<circle cx="151.678" cy="796.55" r="6.94"/>
<circle cx="156.39" cy="801.263" r="6.94"/>
<circle cx="145.08" cy="804.09" r="6.94"/>
<circle cx="158.275" cy="813.516" r="6.94"/>
<circle cx="163.93" cy="817.286" r="6.94"/>
<circle cx="174.298" cy="818.228" r="6.94"/>
<circle cx="179.953" cy="821.056" r="6.94"/>
<circle cx="142.253" cy="792.78" r="6.94"/>
<circle cx="156.39" cy="790.895" r="6.94"/>
</g>
<g clip-path="url(#c)" fill="none">
<path d="M101.5 826.6L769.4 222" stroke="#f00" stroke-opacity="0.35" stroke-width="4.5" stroke-linecap="round"/>
<path d="M64.5 881.881L845.5 105.919" stroke="#00f" stroke-opacity="0.35" stroke-width="4.17" stroke-linecap="square"/>
</g>
<path d="M101.5 880.5v5.5M258.5 880.5v5.5M415.5 880.5v5.5M572.5 880.5v5.5M729.5 880.5v5.5M67.5 846.5h-5.5M67.5 689.5h-5.5M67.5 533.5h-5.5M67.5 377.5h-5.5M67.5 221.5h-5.5" stroke="#000" stroke-width="1.11" fill="none"/>
<rect x="67.5" y="110.5" width="775" height="770" fill="none" stroke="#000" stroke-width="1.11"/>
<text transform="translate(102.7 900.9) scale(1 0.93)" font-size="13.89" text-anchor="middle" stroke="#000" stroke-width="0.25">0</text>
<text transform="translate(258.15 900.9) scale(1 0.93)" font-size="13.89" text-anchor="middle" stroke="#000" stroke-width="0.25" letter-spacing="-0.1">200</text>
<text transform="translate(415.5 900.9) scale(1 0.93)" font-size="13.89" text-anchor="middle" stroke="#000" stroke-width="0.25" letter-spacing="-0.5">400</text>
<text transform="translate(572.15 900.9) scale(1 0.93)" font-size="13.89" text-anchor="middle" stroke="#000" stroke-width="0.25" letter-spacing="-0.1">600</text>
<text transform="translate(729.15 900.9) scale(1 0.93)" font-size="13.89" text-anchor="middle" stroke="#000" stroke-width="0.25" letter-spacing="-0.1">800</text>
<text transform="translate(57.95 850.3) scale(1 0.93)" font-size="13.89" text-anchor="end" stroke="#000" stroke-width="0.25">0</text>
<text transform="translate(57.55 694.2) scale(1 0.93)" font-size="13.89" text-anchor="end" stroke="#000" stroke-width="0.25" letter-spacing="-0.1">200</text>
<text transform="translate(55.75 538.2) scale(1 0.93)" font-size="13.89" text-anchor="end" stroke="#000" stroke-width="0.25" letter-spacing="-0.45">400</text>
<text transform="translate(57.55 382.2) scale(1 0.93)" font-size="13.89" text-anchor="end" stroke="#000" stroke-width="0.25" letter-spacing="-0.1">600</text>
<text transform="translate(57.55 226.2) scale(1 0.93)" font-size="13.89" text-anchor="end" stroke="#000" stroke-width="0.25" letter-spacing="-0.1">800</text>
<text transform="translate(453.6 920.9) scale(0.99 0.91)" font-size="16.67" text-anchor="middle">Simulated</text>
<text transform="translate(22.3 496.1) rotate(-90) scale(1 0.91)" font-size="16.67" text-anchor="middle">Observed</text>
<text x="441.7" y="24.8" font-size="19.44" text-anchor="middle" letter-spacing="0.035">X-Y plot at is.landsvirkjun.l05 for downward_shortwave_flux</text>
<text x="441.6" y="48" font-size="19.44" text-anchor="middle" letter-spacing="0.025">from rav2-11-12 during spring</text>
</svg></body></html>
